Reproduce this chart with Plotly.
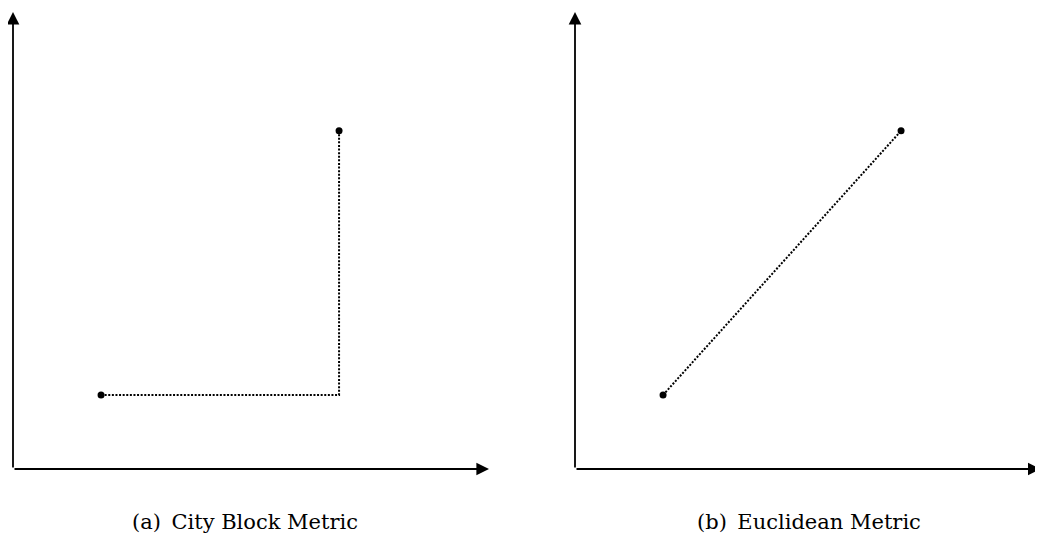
import plotly.graph_objects as go

# Data (arbitrary units, origin at axis corner, axes run 0..10)
city_x = [1.85, 6.85, 6.85]
city_y = [1.62, 1.62, 7.4]
eucl_x = [1.85, 6.85]
eucl_y = [1.62, 7.4]
end_x = [1.85, 6.85]
end_y = [1.62, 7.4]
captions = ["(a)\u2002City Block Metric", "(b)\u2002Euclidean Metric"]

OFF = 8  # page body margin
W, H = 1043 - OFF, 537 - OFF
px_per_x = 47.6


def fx(px):
    return (px - OFF) / W


def fy(py):
    return 1 - (py - OFF) / H


fig = go.Figure()
dot = "2px,1.6px"

# Panel a
fig.add_trace(go.Scatter(x=city_x, y=city_y, mode="lines",
                         line=dict(color="black", width=2, dash=dot),
                         xaxis="x", yaxis="y", showlegend=False, hoverinfo="skip"))
fig.add_trace(go.Scatter(x=end_x, y=end_y, mode="markers",
                         marker=dict(color="black", size=7),
                         xaxis="x", yaxis="y", showlegend=False))
# Panel b
fig.add_trace(go.Scatter(x=eucl_x, y=eucl_y, mode="lines",
                         line=dict(color="black", width=2, dash=dot),
                         xaxis="x2", yaxis="y2", showlegend=False, hoverinfo="skip"))
fig.add_trace(go.Scatter(x=end_x, y=end_y, mode="markers",
                         marker=dict(color="black", size=7),
                         xaxis="x2", yaxis="y2", showlegend=False))

y_dom = [fy(469), fy(12)]
ax_common = dict(showgrid=False, zeroline=False, showticklabels=False,
                 ticks="", showline=False, fixedrange=True)
x2max = (1043 - 575) / px_per_x
fig.update_layout(
    width=W, height=H,
    margin=dict(l=0, r=0, t=0, b=0),
    paper_bgcolor="white", plot_bgcolor="rgba(0,0,0,0)",
    xaxis=dict(domain=[fx(13), fx(489)], range=[0, 10], **ax_common),
    yaxis=dict(domain=y_dom, range=[0, 10], **ax_common),
    xaxis2=dict(domain=[fx(575), 1.0], range=[0, x2max], **ax_common),
    yaxis2=dict(domain=y_dom, range=[0, 10], anchor="x2", **ax_common),
)

arrows = [("x", "y", 10, 0), ("x", "y", 0, 10),
          ("x2", "y2", x2max - 0.05, 0), ("x2", "y2", 0, 10)]
for xr, yr, hx, hy in arrows:
    fig.add_annotation(x=hx, y=hy, ax=0, ay=0, xref=xr, yref=yr,
                       axref=xr, ayref=yr, text="", showarrow=True,
                       arrowhead=2, arrowsize=1.4, arrowwidth=1.8,
                       arrowcolor="black", standoff=0, startstandoff=0)

for cx, txt in zip([245, 809], captions):
    fig.add_annotation(x=fx(cx), y=fy(522), xref="paper", yref="paper",
                       text=txt, showarrow=False, xanchor="center", yanchor="middle",
                       font=dict(family="DejaVu Serif", size=21, color="black"))

fig.write_html("out.html")
